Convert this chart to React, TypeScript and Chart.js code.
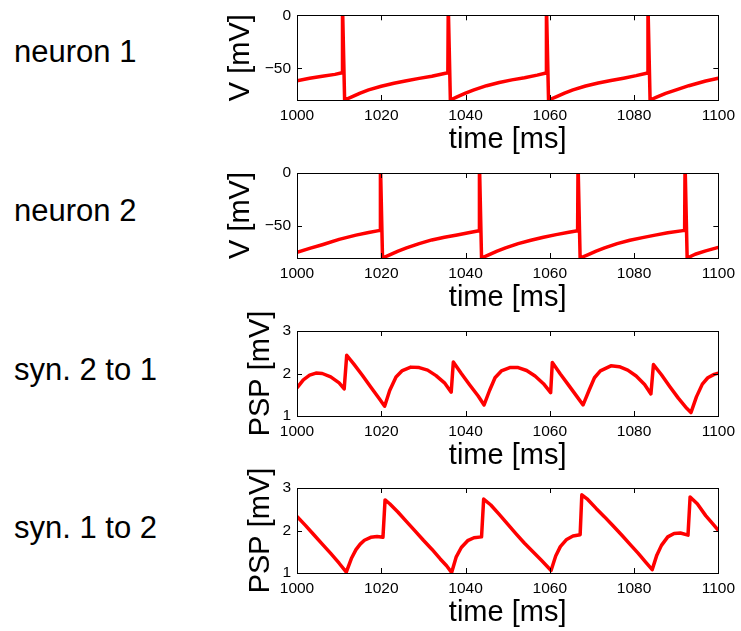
import React, { useEffect, useRef } from "react";
import { Chart, registerables } from "chart.js";

Chart.register(...registerables);

const FONT = "'Liberation Sans', Arial, Helvetica, sans-serif";

// ---- tick labels ----
const timeTicks = [1000, 1020, 1040, 1060, 1080, 1100];
const voltTicks = [-50, 0];
const pspTicks = [1, 2, 3];

// ---- row labels ----
const rowLabels = ["neuron 1", "neuron 2", "syn. 2 to 1", "syn. 1 to 2"];

// ---- neuron 1 membrane potential ----
const n1Time = [
  1000, 1003, 1006, 1009, 1010.7, 1010.8, 1011.3,
  1013, 1015, 1017, 1020, 1023, 1026, 1029, 1032, 1035.8, 1035.9, 1036.4,
  1038, 1040, 1042, 1045, 1048, 1051, 1054, 1057, 1059.1, 1059.2, 1059.7,
  1061.5, 1063.5, 1065.5, 1068.5, 1071.5, 1074.5, 1077.5, 1080.5, 1083.2, 1083.3, 1083.8,
  1085.5, 1087.5, 1090, 1093, 1097, 1100,
];
const n1V = [
  -61.8, -59.5, -57.6, -55.8, -54.3, 10, -80,
  -77, -73.5, -70.5, -67, -64.2, -61.8, -59.6, -57.5, -54.3, 10, -80,
  -77, -73.5, -70.5, -66.5, -63.5, -61, -59, -56.5, -54.5, 10, -80,
  -77, -73.5, -70.5, -66.8, -64, -61.6, -59.4, -57, -54.5, 10, -80,
  -77, -73.8, -70.5, -66.5, -62, -59.5,
];

// ---- neuron 2 membrane potential ----
const n2Time = [
  1000, 1003, 1006, 1010, 1014, 1017, 1019.7, 1019.8, 1020.3,
  1022, 1024, 1026, 1029, 1032, 1035, 1038, 1041, 1043.2, 1043.3, 1043.8,
  1045.5, 1047.5, 1049.5, 1052.5, 1055.5, 1058.5, 1061.5, 1064.5, 1066.6, 1066.7, 1067.2,
  1069, 1071, 1073, 1076, 1079, 1082, 1085, 1088, 1092, 1092.1, 1092.6,
  1094.5, 1097, 1100,
];
const n2V = [
  -74.7, -71, -67.5, -62.5, -58.5, -56, -54, 10, -80,
  -77, -73.5, -70.5, -66.5, -63, -60.5, -58.3, -56, -54.3, 10, -80,
  -77, -73.5, -70.5, -66.5, -63.3, -60.5, -58, -55.8, -54.3, 10, -80,
  -77, -73.5, -70.5, -66.5, -63.3, -60.8, -58.5, -56.3, -54, 10, -80,
  -76.5, -73.3, -70,
];

// ---- synapse 2 -> 1 PSP ----
const s21Time = [
  1000, 1001.5, 1003, 1004.5, 1006, 1008, 1010, 1011.2, 1011.8, 1013.5, 1015.5, 1017.5, 1019.5, 1020.8,
  1022, 1023.5, 1025, 1027, 1029, 1031, 1033, 1035, 1036.6, 1037.1, 1039, 1041, 1043, 1044.4,
  1045.7, 1047, 1048.5, 1050.5, 1052.5, 1054.5, 1056.5, 1058.5, 1060.2, 1060.6, 1062.5, 1064.5, 1066.5, 1067.9,
  1069.3, 1070.6, 1072, 1074.5, 1076.5, 1078.5, 1080.5, 1082.5, 1084, 1084.6, 1086.5, 1088.5, 1090.5, 1092.5, 1093.5,
  1094.8, 1096.2, 1097.5, 1099, 1100,
];
const s21V = [
  1.66, 1.85, 1.96, 2.01, 2.0, 1.92, 1.78, 1.64, 2.43, 2.22, 1.96, 1.68, 1.41, 1.23,
  1.6, 1.92, 2.07, 2.15, 2.14, 2.08, 1.95, 1.78, 1.56, 2.27, 2.0, 1.73, 1.47, 1.26,
  1.6, 1.9, 2.06, 2.14, 2.14, 2.07, 1.94, 1.76, 1.55, 2.26, 1.99, 1.72, 1.45, 1.26,
  1.6, 1.9, 2.06, 2.18, 2.16, 2.08, 1.94, 1.74, 1.52, 2.21, 1.97, 1.69, 1.42, 1.18, 1.08,
  1.45, 1.75, 1.9, 1.98, 2.01,
];

// ---- synapse 1 -> 2 PSP ----
const s12Time = [
  1000, 1002, 1004, 1006, 1008, 1010, 1011.7,
  1012.9, 1014, 1015, 1016, 1017.5, 1019, 1020.4, 1020.9,
  1022, 1024, 1026, 1028, 1030, 1032, 1034, 1035.5, 1036.7,
  1037.8, 1039, 1040.5, 1042, 1043.8, 1044.3,
  1046, 1048, 1050, 1052, 1054, 1056, 1058, 1060.3,
  1061.4, 1062.5, 1064, 1065.5, 1067.2, 1067.6,
  1069, 1071, 1073, 1075, 1077, 1079, 1081, 1082.8, 1084.3,
  1085.4, 1086.5, 1088, 1089.5, 1091, 1092.8, 1093.3,
  1095, 1097, 1099, 1100,
];
const s12V = [
  2.33, 2.12, 1.9, 1.68, 1.46, 1.23, 1.02,
  1.34, 1.55, 1.68, 1.77, 1.84, 1.86, 1.84, 2.72,
  2.63, 2.43, 2.21, 1.99, 1.77, 1.56, 1.33, 1.17, 1.01,
  1.38, 1.6, 1.76, 1.83, 1.85, 2.74,
  2.6, 2.38, 2.15, 1.92, 1.7, 1.5, 1.3, 1.06,
  1.4, 1.62, 1.79, 1.87, 1.9, 2.84,
  2.73, 2.52, 2.32, 2.11, 1.9, 1.68, 1.46, 1.25, 1.08,
  1.42, 1.65, 1.85, 1.93, 1.94, 1.89, 2.79,
  2.63, 2.35, 2.12, 2.0,
];

const fmtTick = (v: number) => (v < 0 ? "\u2212" + Math.abs(v) : String(v));

const framePlugin = {
  id: "matlabFrame",
  afterDatasetsDraw(chart: any) {
    const { ctx, chartArea: a, scales } = chart;
    const xs = scales.x;
    const ys = scales.y;
    const L = 5;
    ctx.save();
    ctx.strokeStyle = "#000";
    ctx.lineWidth = 1;
    ctx.beginPath();
    xs.ticks.forEach((t: any) => {
      const p = Math.round(xs.getPixelForValue(t.value)) + 0.5;
      ctx.moveTo(p, a.bottom);
      ctx.lineTo(p, a.bottom - L);
      ctx.moveTo(p, a.top);
      ctx.lineTo(p, a.top + L);
    });
    ys.ticks.forEach((t: any) => {
      const p = Math.round(ys.getPixelForValue(t.value)) + 0.5;
      ctx.moveTo(a.left, p);
      ctx.lineTo(a.left + L, p);
      ctx.moveTo(a.right, p);
      ctx.lineTo(a.right - L, p);
    });
    ctx.stroke();
    ctx.strokeRect(
      Math.round(a.left) + 0.5,
      Math.round(a.top) + 0.5,
      Math.round(a.right - a.left),
      Math.round(a.bottom - a.top)
    );
    ctx.restore();
  },
};

type PanelProps = {
  plotTop: number;
  padTop: number;
  time: number[];
  values: number[];
  yMin: number;
  yMax: number;
  yTicks: number[];
  yLabel: string;
  yTitlePad: number;
};

const CANVAS_LEFT = 200;
const CANVAS_W = 541;
const Y_AXIS_W = 97;
const PAD_RIGHT = 19;
const PLOT_H = 85;
const X_AXIS_H = 60;

function Panel(p: PanelProps) {
  const ref = useRef<HTMLCanvasElement | null>(null);
  const height = p.padTop + PLOT_H + X_AXIS_H;
  useEffect(() => {
    if (!ref.current) return;
    const chart = new Chart(ref.current, {
      type: "line",
      data: {
        datasets: [
          {
            data: p.time.map((x, i) => ({ x, y: p.values[i] })),
            borderColor: "#ff0000",
            borderWidth: 3.5,
            pointRadius: 0,
            tension: 0,
            fill: false,
            borderJoinStyle: "round",
          },
        ],
      },
      options: {
        animation: false,
        responsive: false,
        events: [],
        layout: { padding: { top: p.padTop, right: PAD_RIGHT, bottom: 0, left: 0 } },
        plugins: { legend: { display: false }, tooltip: { enabled: false } },
        scales: {
          x: {
            type: "linear",
            min: 1000,
            max: 1100,
            grid: { display: false, drawTicks: false },
            border: { display: false },
            afterBuildTicks: (s: any) => {
              s.ticks = timeTicks.map((v) => ({ value: v }));
            },
            afterFit: (s: any) => {
              s.height = X_AXIS_H;
            },
            ticks: {
              color: "#000",
              padding: 6,
              maxRotation: 0,
              autoSkip: false,
              font: { family: FONT, size: 15.5 },
              callback: (v: any) => fmtTick(Number(v)),
            },
            title: {
              display: true,
              text: "time [ms]",
              color: "#000",
              font: { family: FONT, size: 29 },
              padding: { top: 0, bottom: 3 },
            },
          },
          y: {
            type: "linear",
            min: p.yMin,
            max: p.yMax,
            grid: { display: false, drawTicks: false },
            border: { display: false },
            afterBuildTicks: (s: any) => {
              s.ticks = p.yTicks.map((v) => ({ value: v }));
            },
            afterFit: (s: any) => {
              s.width = Y_AXIS_W;
            },
            ticks: {
              color: "#000",
              padding: 6,
              autoSkip: false,
              font: { family: FONT, size: 15.5 },
              callback: (v: any) => fmtTick(Number(v)),
            },
            title: {
              display: true,
              text: p.yLabel,
              color: "#000",
              font: { family: FONT, size: 29 },
              padding: { top: p.yTitlePad, bottom: 0 },
            },
          },
        },
      },
      plugins: [framePlugin],
    } as any);
    return () => chart.destroy();
  }, []);
  return (
    <canvas
      ref={ref}
      width={CANVAS_W}
      height={height}
      style={{
        position: "absolute",
        left: CANVAS_LEFT,
        top: p.plotTop - p.padTop,
        width: CANVAS_W,
        height,
      }}
    />
  );
}

const labelBaselines = [62, 221, 380, 538];

export default function App() {
  return (
    <div
      style={{
        position: "fixed",
        left: 0,
        top: 0,
        width: 741,
        height: 631,
        overflow: "hidden",
        background: "#fff",
      }}
    >
      {rowLabels.map((t, i) => (
        <div
          key={t}
          style={{
            position: "absolute",
            left: 14,
            top: labelBaselines[i] - 26.2,
            fontFamily: FONT,
            fontSize: 31,
            lineHeight: "31px",
            color: "#000",
            whiteSpace: "nowrap",
          }}
        >
          {t}
        </div>
      ))}
      <Panel plotTop={15} padTop={15} time={n1Time} values={n1V} yMin={-80} yMax={0} yTicks={voltTicks} yLabel="V [mV]" yTitlePad={23.6} />
      <Panel plotTop={173} padTop={40} time={n2Time} values={n2V} yMin={-80} yMax={0} yTicks={voltTicks} yLabel="V [mV]" yTitlePad={23.6} />
      <Panel plotTop={331} padTop={40} time={s21Time} values={s21V} yMin={1} yMax={3} yTicks={pspTicks} yLabel="PSP [mV]" yTitlePad={43.6} />
      <Panel plotTop={488} padTop={40} time={s12Time} values={s12V} yMin={1} yMax={3} yTicks={pspTicks} yLabel="PSP [mV]" yTitlePad={43.6} />
    </div>
  );
}
